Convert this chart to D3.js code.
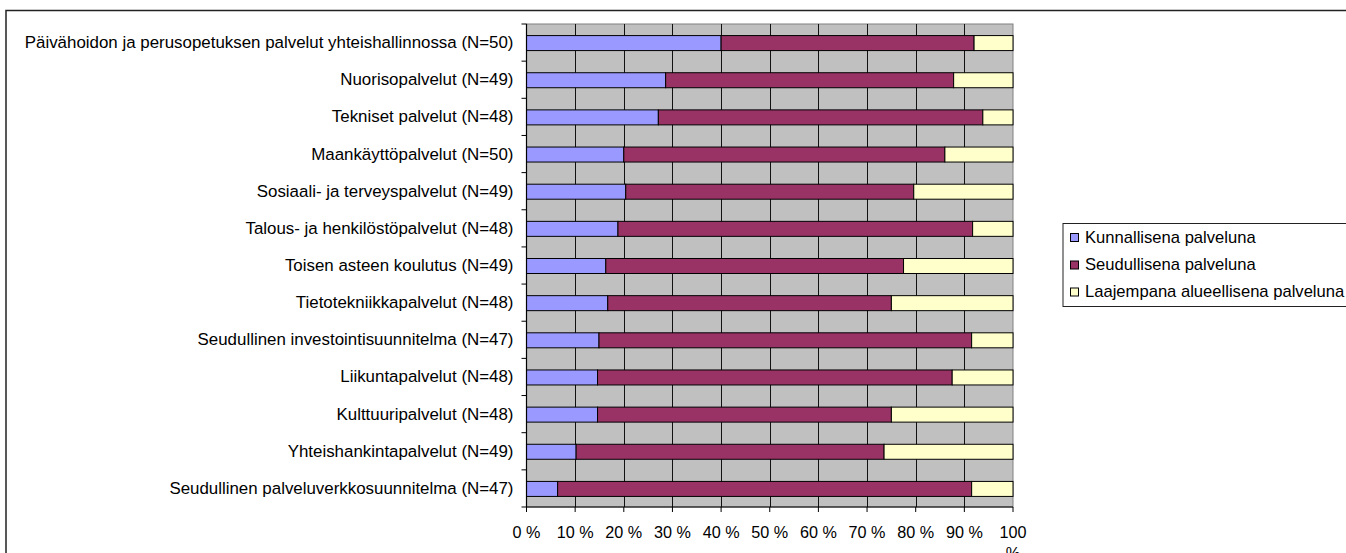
<!DOCTYPE html>
<html>
<head>
<meta charset="utf-8">
<script src="https://cdn.jsdelivr.net/npm/d3@7"></script>
<style>
  html, body { margin: 0; padding: 0; background: #fff; }
  svg { display: block; }
  text { font-family: "Liberation Sans", Arial, sans-serif; fill: #000; }
</style>
</head>
<body>
<svg id="chart" width="1346" height="553"></svg>
<script>
const categories = [
  "Päivähoidon ja perusopetuksen palvelut yhteishallinnossa (N=50)",
  "Nuorisopalvelut (N=49)",
  "Tekniset palvelut (N=48)",
  "Maankäyttöpalvelut (N=50)",
  "Sosiaali- ja terveyspalvelut (N=49)",
  "Talous- ja henkilöstöpalvelut (N=48)",
  "Toisen asteen koulutus (N=49)",
  "Tietotekniikkapalvelut (N=48)",
  "Seudullinen investointisuunnitelma (N=47)",
  "Liikuntapalvelut (N=48)",
  "Kulttuuripalvelut (N=48)",
  "Yhteishankintapalvelut (N=49)",
  "Seudullinen palveluverkkosuunnitelma (N=47)"
];
const seriesNames = ["Kunnallisena palveluna", "Seudullisena palveluna", "Laajempana alueellisena palveluna"];
const kunnallinen = [40.0, 28.6, 27.1, 20.0, 20.4, 18.8, 16.3, 16.7, 14.9, 14.6, 14.6, 10.2, 6.4];
const seudullinen = [52.0, 59.2, 66.7, 66.0, 59.2, 72.9, 61.2, 58.3, 76.6, 72.9, 60.4, 63.3, 85.1];
const laajempi    = [8.0, 12.2, 6.2, 14.0, 20.4, 8.3, 22.5, 25.0, 8.5, 12.5, 25.0, 26.5, 8.5];
const xTicks = [0, 10, 20, 30, 40, 50, 60, 70, 80, 90, 100];
const colors = ["#9999ff", "#993366", "#ffffcc"];

const svg = d3.select("#chart");
const W = 1346, H = 553;
const pLeft = 526.5, pRight = 1013, pTop = 24, pBottom = 507;

// outer chart border
svg.append("rect").attr("x", 6).attr("y", 10.5).attr("width", W + 10).attr("height", H + 10)
  .attr("fill", "#fff").attr("stroke", "#222").attr("stroke-width", 1.5);

const x = d3.scaleLinear().domain([0, 100]).range([pLeft, pRight]);
const y = d3.scaleBand().domain(categories).range([pTop, pBottom]).paddingInner(0).paddingOuter(0);

// plot background
svg.append("rect").attr("x", pLeft).attr("y", pTop).attr("width", pRight - pLeft).attr("height", pBottom - pTop)
  .attr("fill", "#c0c0c0").attr("stroke", "#808080").attr("stroke-width", 1);

// vertical gridlines
svg.append("g").selectAll("line").data(xTicks.filter(d => d > 0 && d < 100)).join("line")
  .attr("x1", d => Math.round(x(d)) + 0.5).attr("x2", d => Math.round(x(d)) + 0.5)
  .attr("y1", pTop).attr("y2", pBottom)
  .attr("stroke", "#111").attr("stroke-width", 1);

// stacked data
const rows = categories.map((c, i) => ({ cat: c, vals: [kunnallinen[i], seudullinen[i], laajempi[i]] }));
const stacked = d3.stack().keys([0, 1, 2]).value((d, k) => d.vals[k])(rows);

const barH = 15;
svg.append("g").selectAll("g").data(stacked).join("g")
  .attr("fill", (d, i) => colors[i])
  .selectAll("rect").data(d => d).join("rect")
  .attr("x", d => x(d[0]))
  .attr("width", d => Math.max(0, x(Math.min(100, d[1])) - x(d[0])))
  .attr("y", d => y(d.data.cat) + (y.bandwidth() - barH) / 2 + 0.5)
  .attr("height", barH)
  .attr("stroke", "#000").attr("stroke-width", 1);

// left axis
const yAxis = svg.append("g").attr("transform", `translate(${pLeft},0)`);
yAxis.append("line").attr("x1", 0).attr("x2", 0).attr("y1", pTop).attr("y2", pBottom)
  .attr("stroke", "#000").attr("stroke-width", 1.2);
const bounds = d3.range(categories.length + 1).map(i => pTop + i * y.step());
yAxis.selectAll("line.tk").data(bounds).join("line").attr("class", "tk")
  .attr("x1", -5).attr("x2", 0).attr("y1", d => d).attr("y2", d => d)
  .attr("stroke", "#000");
yAxis.selectAll("text").data(categories).join("text")
  .attr("x", -13).attr("y", d => y(d) + y.bandwidth() / 2 + 1)
  .attr("text-anchor", "end").attr("dominant-baseline", "middle")
  .attr("font-size", "16.9px").text(d => d);

// bottom axis
const xAxis = svg.append("g").attr("transform", `translate(0,${pBottom})`);
xAxis.append("line").attr("x1", pLeft).attr("x2", pRight).attr("y1", 0).attr("y2", 0)
  .attr("stroke", "#000").attr("stroke-width", 1.2);
xAxis.selectAll("line.tk").data(xTicks).join("line").attr("class", "tk")
  .attr("x1", d => x(d)).attr("x2", d => x(d)).attr("y1", 0).attr("y2", 5)
  .attr("stroke", "#000");
const tl = xAxis.selectAll("text").data(xTicks).join("text")
  .attr("text-anchor", "middle").attr("font-size", "16.2px")
  .attr("transform", d => `translate(${x(d)},31)`);
tl.each(function(d) {
  const t = d3.select(this);
  if (d === 100) {
    t.append("tspan").attr("x", 0).attr("y", 0).text("100");
    t.append("tspan").attr("x", 0).attr("y", 21).text("%");
  } else {
    t.text(d + " %");
  }
});

// legend
const lg = svg.append("g");
lg.append("rect").attr("x", 1063).attr("y", 223.5).attr("width", 300).attr("height", 83)
  .attr("fill", "#fff").attr("stroke", "#222").attr("stroke-width", 1);
const ly = [237.5, 265, 292];
seriesNames.forEach((s, i) => {
  lg.append("rect").attr("x", 1070.5).attr("y", ly[i] - 4).attr("width", 8).attr("height", 8)
    .attr("fill", colors[i]).attr("stroke", "#000").attr("stroke-width", 1);
  lg.append("text").attr("x", 1085).attr("y", ly[i] + 1).attr("dominant-baseline", "middle")
    .attr("font-size", "16.6px").text(s);
});
</script>
</body>
</html>
